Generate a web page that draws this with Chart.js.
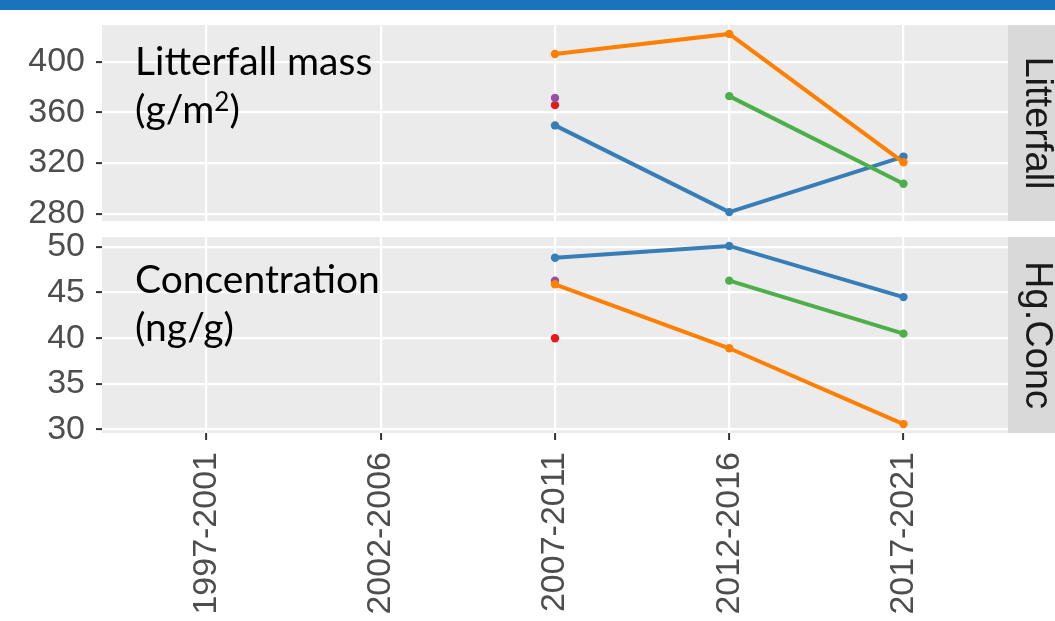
<!DOCTYPE html>
<html>
<head>
<meta charset="utf-8">
<script src="https://cdn.jsdelivr.net/npm/chart.js@4.4.1/dist/chart.umd.min.js"></script>
<style>
  html, body { margin: 0; padding: 0; background: #fff; overflow: hidden; }
  #wrap { position: relative; width: 1055px; height: 621px; }
  #bar { position: absolute; left: 0; top: 0; width: 1055px; height: 10px; background: #1a74bb; z-index: 3; }
  #top { position: absolute; left: 0; top: 0; z-index: 2; }
  #bottom { position: absolute; left: 0; top: 227px; z-index: 1; }
</style>
</head>
<body>
<div id="wrap">
  <div id="bar"></div>
  <canvas id="top" width="1055" height="236"></canvas>
  <canvas id="bottom" width="1055" height="394"></canvas>
</div>
<script>
// === Data ===
const periods = ['1997-2001', '2002-2006', '2007-2011', '2012-2016', '2017-2021'];
const siteColors = ['#E41A1C', '#377EB8', '#4DAF4A', '#984EA3', '#FF7F00'];

// Litterfall mass (g/m2), one array per site (colour order above)
const litterRed    = [null, null, 365.7, null, null];
const litterBlue   = [null, null, 349.7, 281.3, 325.1];
const litterGreen  = [null, null, null, 372.8, 303.7];
const litterPurple = [null, null, 371.3, null, null];
const litterOrange = [null, null, 406.1, 421.9, 320.6];

// Hg concentration (ng/g)
const concRed    = [null, null, 40.0, null, null];
const concBlue   = [null, null, 48.8, 50.1, 44.5];
const concGreen  = [null, null, null, 46.3, 40.5];
const concPurple = [null, null, 46.3, null, null];
const concOrange = [null, null, 45.9, 38.9, 30.6];

// Tick values
const litterMajor = [280, 320, 360, 400];
const litterMinor = [300, 340, 380, 420];
const concMajor = [30, 35, 40, 45, 50];
const concMinor = [32.5, 37.5, 42.5, 47.5];

// === Helpers ===
const tickFont = { family: '"Liberation Sans", Arial, sans-serif', size: 34 };
const noteFont = 'Lato, "Open Sans", sans-serif';

function toPoints(values) {
  return values.map((v, i) => (v === null ? null : { x: i, y: v })).filter(p => p);
}

function makeDatasets(series) {
  // ggplot draws the last group on top; Chart.js draws lower `order` on top
  return series.map((values, i) => ({
    data: toPoints(values),
    borderColor: siteColors[i],
    backgroundColor: siteColors[i],
    borderWidth: 4,
    pointRadius: 4.2,
    pointBorderWidth: 0,
    tension: 0,
    order: series.length - i
  }));
}

function expandedRange(series) {
  const all = series.flat().filter(v => v !== null);
  const lo = Math.min(...all), hi = Math.max(...all);
  const pad = (hi - lo) * 0.05;
  return { min: lo - pad, max: hi + pad };
}

// panel background, facet strip and text annotation
const panelPlugin = {
  id: 'panel',
  beforeDraw(chart) {
    const { ctx, chartArea: a } = chart;
    ctx.save();
    ctx.fillStyle = '#EBEBEB';
    ctx.fillRect(a.left, a.top, a.right - a.left, a.bottom - a.top);
    ctx.restore();
  },
  afterDraw(chart, args, opts) {
    const { ctx, chartArea: a } = chart;
    ctx.save();
    ctx.fillStyle = '#D9D9D9';
    ctx.fillRect(a.right, a.top, chart.width - a.right, a.bottom - a.top);
    ctx.translate(a.right + 28, (a.top + a.bottom) / 2);
    ctx.rotate(Math.PI / 2);
    ctx.fillStyle = '#1A1A1A';
    ctx.font = '38px "Liberation Sans", Arial, sans-serif';
    ctx.textAlign = 'center';
    ctx.textBaseline = 'middle';
    ctx.fillText(opts.strip, 0, 0);
    ctx.restore();

    ctx.save();
    ctx.fillStyle = '#000';
    ctx.textBaseline = 'alphabetic';
    opts.note.forEach((line, li) => {
      let x = a.left + 33;
      const y = a.top + opts.noteTop + li * 48;
      line.forEach(seg => {
        ctx.font = (seg.sup ? '26px ' : '39px ') + noteFont;
        ctx.fillText(seg.t, x, seg.sup ? y - 12 : y);
        x += ctx.measureText(seg.t).width;
      });
    });
    ctx.restore();
  }
};

function yAxis(range, major, minor) {
  const isMajor = v => major.includes(v);
  return {
    type: 'linear',
    min: range.min,
    max: range.max,
    afterBuildTicks: s => { s.ticks = major.concat(minor).sort((p, q) => p - q).map(v => ({ value: v })); },
    afterFit: s => { s.width = 102; s.paddingTop = 0; s.paddingBottom = 0; },
    border: { display: false },
    grid: {
      color: '#FFFFFF',
      lineWidth: c => (isMajor(c.tick.value) ? 2.2 : 1.1),
      tickLength: 6,
      tickWidth: 2,
      tickColor: c => (isMajor(c.tick.value) ? '#333333' : 'rgba(0,0,0,0)')
    },
    ticks: {
      padding: 11,
      color: '#4D4D4D',
      font: tickFont,
      callback: v => (isMajor(v) ? String(v) : '')
    }
  };
}

function xAxis(showLabels) {
  return {
    type: 'linear',
    min: -0.6,
    max: 4.6,
    afterBuildTicks: s => { s.ticks = periods.map((p, i) => ({ value: i })); },
    afterFit: s => { s.height = showLabels ? 188 : 0; s.paddingLeft = 0; s.paddingRight = 0; },
    border: { display: false },
    grid: {
      color: '#FFFFFF',
      lineWidth: 2.2,
      drawTicks: showLabels,
      tickLength: 7,
      tickWidth: 2,
      tickColor: '#333333'
    },
    ticks: {
      display: showLabels,
      autoSkip: false,
      minRotation: 90,
      maxRotation: 90,
      padding: 12,
      color: '#4D4D4D',
      font: tickFont,
      callback: v => periods[v]
    }
  };
}

function makeChart(canvasId, series, major, minor, padTop, padBottom, plugOpts, showLabels) {
  return new Chart(document.getElementById(canvasId), {
    type: 'line',
    data: { datasets: makeDatasets(series) },
    options: {
      responsive: false,
      animation: false,
      layout: { padding: { top: padTop, right: 47, bottom: padBottom, left: 0 }, autoPadding: false },
      scales: {
        x: xAxis(showLabels),
        y: yAxis(expandedRange(series), major, minor)
      },
      plugins: {
        legend: { display: false },
        tooltip: { enabled: false },
        panel: plugOpts
      }
    },
    plugins: [panelPlugin]
  });
}

// === Charts ===
const litterSeries = [litterRed, litterBlue, litterGreen, litterPurple, litterOrange];
const concSeries = [concRed, concBlue, concGreen, concPurple, concOrange];

makeChart('top', litterSeries, litterMajor, litterMinor, 25, 15, {
  strip: 'Litterfall',
  noteTop: 50,
  note: [[{ t: 'Litterfall mass' }], [{ t: '(g/m' }, { t: '2', sup: true }, { t: ')' }]]
}, false);

makeChart('bottom', concSeries, concMajor, concMinor, 10, 0, {
  strip: 'Hg.Conc',
  noteTop: 56,
  note: [[{ t: 'Concentration' }], [{ t: '(ng/g)' }]]
}, true);
</script>
</body>
</html>
